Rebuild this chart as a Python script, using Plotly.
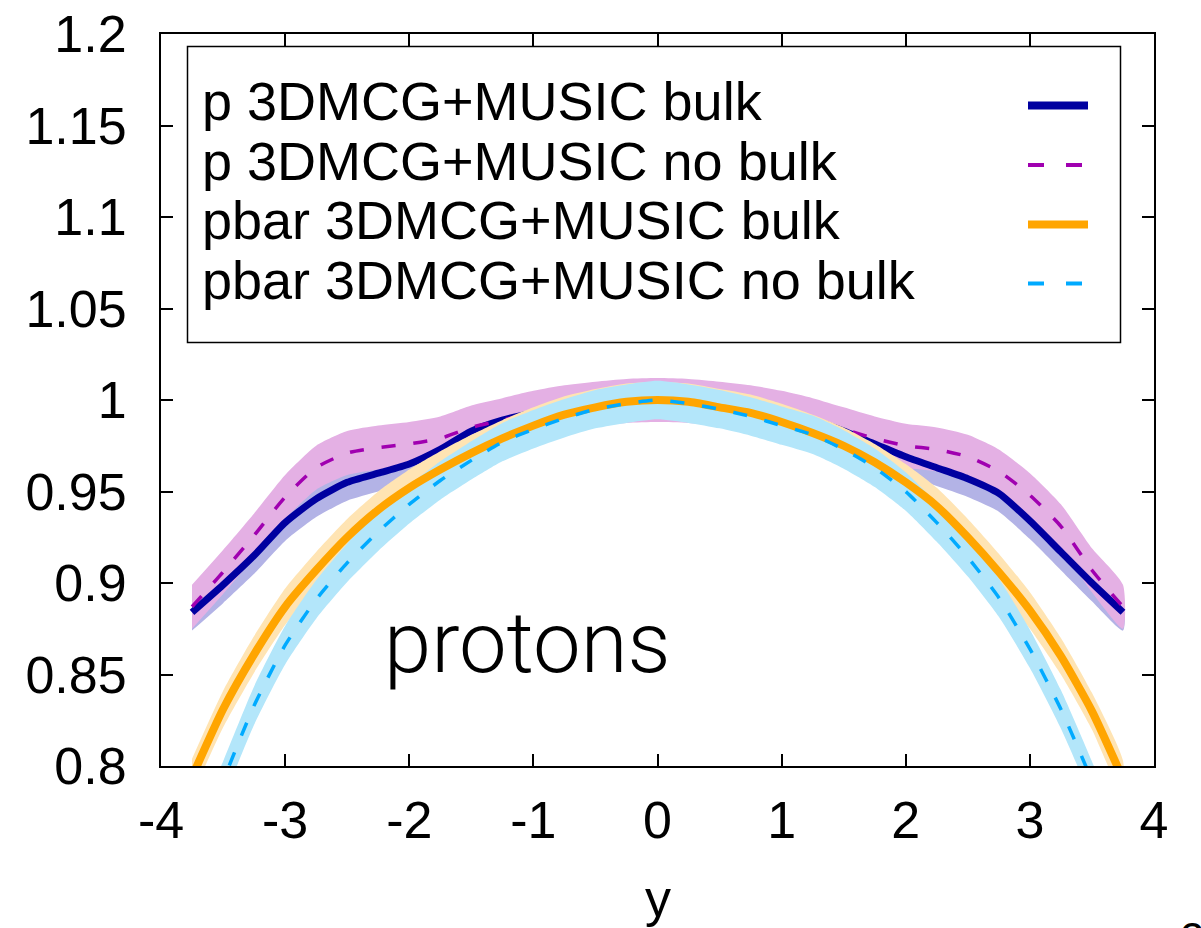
import plotly.graph_objects as go

# rapidity grid
rapidity = [-3.75, -3.5, -3.25, -3.0, -2.75, -2.5, -2.25, -2.0, -1.75, -1.5, -1.25, -1.0,
            -0.75, -0.5, -0.25, 0.0, 0.25, 0.5, 0.75, 1.0, 1.25, 1.5, 1.75, 2.0,
            2.25, 2.5, 2.75, 3.0, 3.25, 3.5, 3.75]

# protons, with bulk viscosity
p_bulk = [0.884, 0.899, 0.915, 0.933, 0.946, 0.955, 0.960, 0.965, 0.973, 0.983, 0.989, 0.993,
          0.996, 0.998, 0.9995, 1.000, 0.9995, 0.998, 0.996, 0.993, 0.989, 0.983, 0.976, 0.969,
          0.963, 0.957, 0.949, 0.934, 0.917, 0.900, 0.884]
p_bulk_err = [0.010] * 31

# protons, no bulk viscosity
p_nobulk = [0.887, 0.906, 0.926, 0.947, 0.963, 0.971, 0.974, 0.976, 0.979, 0.985, 0.989, 0.993,
            0.996, 0.998, 0.9995, 1.000, 0.9995, 0.998, 0.996, 0.993, 0.989, 0.984, 0.979, 0.975,
            0.973, 0.969, 0.961, 0.948, 0.931, 0.907, 0.887]
p_nobulk_err = [0.012] * 31

# antiprotons, with bulk viscosity
pbar_bulk = [0.794, 0.831, 0.861, 0.887, 0.907, 0.925, 0.940, 0.952, 0.962, 0.971, 0.979, 0.986,
             0.992, 0.996, 0.999, 1.000, 0.999, 0.996, 0.993, 0.988, 0.982, 0.975, 0.966, 0.955,
             0.942, 0.925, 0.906, 0.885, 0.860, 0.830, 0.793]
pbar_bulk_err = [0.010] * 31

# antiprotons, no bulk viscosity
pbar_nobulk = [0.752, 0.792, 0.833, 0.866, 0.891, 0.911, 0.928, 0.943, 0.956, 0.967, 0.977, 0.984,
               0.990, 0.995, 0.998, 1.000, 0.998, 0.995, 0.991, 0.986, 0.981, 0.973, 0.963, 0.950,
               0.933, 0.914, 0.892, 0.864, 0.831, 0.792, 0.750]
pbar_nobulk_err = [0.0105] * 31

legend_labels = ["p 3DMCG+MUSIC bulk", "p 3DMCG+MUSIC no bulk",
                 "pbar 3DMCG+MUSIC bulk", "pbar 3DMCG+MUSIC no bulk"]

C_BLUE = "#0000a0"
C_PURPLE = "#a000b0"
C_ORANGE = "#ffa500"
C_CYAN = "#00aaff"
F_LAVENDER = "#b3b3e6"
F_PINK = "#e4b0e4"
F_YELLOW = "#ffe4b3"
F_CYAN = "#b3e6fa"

FONT = "Liberation Sans, Arial, Helvetica, sans-serif"

W, H = 1201, 928
ML, MR, MT, MB = 161, 47, 34, 162
PW, PH = W - ML - MR, H - MT - MB


def px(x):
    return (x - ML) / PW


def py(y):
    return (H - MB - y) / PH


def band(vals, errs, color):
    up = [v + e for v, e in zip(vals, errs)]
    lo = [v - e for v, e in zip(vals, errs)]
    return go.Scatter(x=rapidity + rapidity[::-1], y=up + lo[::-1], fill="toself",
                      fillcolor=color, line=dict(width=0, shape="spline", smoothing=0.6),
                      mode="lines", hoverinfo="skip", showlegend=False)


def curve(vals, **line):
    return go.Scatter(x=rapidity, y=vals, mode="lines", showlegend=False,
                      line=dict(shape="spline", smoothing=0.6, **line))


fig = go.Figure()
fig.add_trace(band(p_bulk, p_bulk_err, F_LAVENDER))
fig.add_trace(band(p_nobulk, p_nobulk_err, F_PINK))
fig.add_trace(curve(p_bulk, color=C_BLUE, width=7))
fig.add_trace(curve(p_nobulk, color=C_PURPLE, width=3.5, dash="14px,18px"))
fig.add_trace(band(pbar_bulk, pbar_bulk_err, F_YELLOW))
fig.add_trace(band(pbar_nobulk, pbar_nobulk_err, F_CYAN))
fig.add_trace(curve(pbar_bulk, color=C_ORANGE, width=8))
fig.add_trace(curve(pbar_nobulk, color=C_CYAN, width=3.5, dash="14px,18px"))

axis_common = dict(showline=True, linecolor="black", linewidth=2, mirror="ticks",
                   ticks="inside", ticklen=12, tickwidth=1.5, tickcolor="black",
                   showgrid=False, zeroline=False, automargin=False,
                   tickfont=dict(family=FONT, size=52, color="black"))

fig.update_xaxes(range=[-4, 4], tickmode="array", tickvals=[-4, -3, -2, -1, 0, 1, 2, 3, 4],
                 ticktext=["-4", "-3", "-2", "-1", "0", "1", "2", "3", "4"],
                 ticklabelstandoff=8, **axis_common)
fig.update_yaxes(range=[0.8, 1.2], tickmode="array",
                 tickvals=[0.8, 0.85, 0.9, 0.95, 1.0, 1.05, 1.1, 1.15, 1.2],
                 ticktext=["0.8", "0.85", "0.9", "0.95", "1", "1.05", "1.1", "1.15", "1.2"],
                 ticklabelstandoff=22, **axis_common)

shapes = []
annotations = []

# key box
shapes.append(dict(type="rect", xref="paper", yref="paper",
                   x0=px(187.5), x1=px(1120.5), y0=py(342.5), y1=py(46.5),
                   line=dict(color="black", width=1.5), fillcolor="white", layer="above"))

key_rows = [105.5, 165, 224.5, 283.5]
key_styles = [dict(color=C_BLUE, width=8), dict(color=C_PURPLE, width=4, dash="16px,22px"),
              dict(color=C_ORANGE, width=8), dict(color=C_CYAN, width=4, dash="16px,22px")]
for label, yrow, style in zip(legend_labels, key_rows, key_styles):
    annotations.append(dict(text=label, xref="paper", yref="paper", x=px(200), y=py(yrow - 4),
                            xanchor="left", yanchor="middle", showarrow=False,
                            font=dict(family=FONT, size=54, color="black")))
    shapes.append(dict(type="line", xref="paper", yref="paper", x0=px(1028), x1=px(1088),
                       y0=py(yrow), y1=py(yrow), line=style, layer="above"))

annotations.append(dict(text="protons", xref="x", yref="y", x=-2.22, y=0.867,
                        xanchor="left", yanchor="middle", showarrow=False,
                        font=dict(family="Roboto, Lato, sans-serif", size=85, color="black",
                                  weight=300)))

annotations.append(dict(text="y", xref="x", yref="paper", x=0, y=py(898),
                        xanchor="center", yanchor="middle", showarrow=False,
                        font=dict(family=FONT, size=52, color="black")))

annotations.append(dict(text="2", xref="paper", yref="paper", x=px(1192), y=py(912),
                        xanchor="center", yanchor="top", showarrow=False,
                        font=dict(family=FONT, size=44, color="black")))

fig.update_layout(width=W, height=H, margin=dict(l=ML, r=MR, t=MT, b=MB, pad=0, autoexpand=False),
                  paper_bgcolor="white", plot_bgcolor="white",
                  shapes=shapes, annotations=annotations, showlegend=False)

fig.write_html("out.html")
